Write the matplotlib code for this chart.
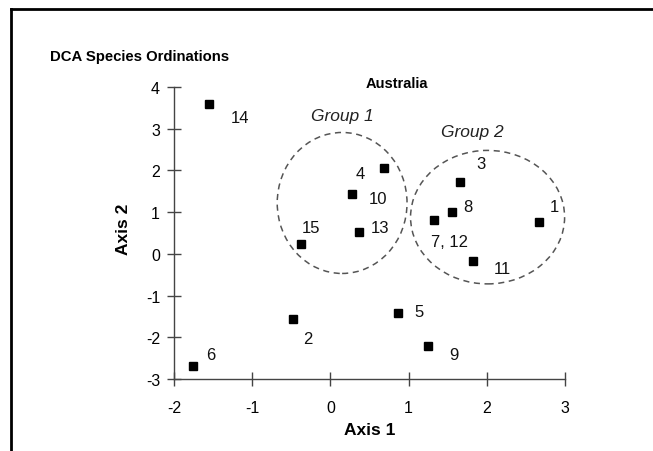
import matplotlib
matplotlib.use('Agg')
import matplotlib.pyplot as plt
from matplotlib.patches import Ellipse
from matplotlib.lines import Line2D

plt.rcParams['font.family'] = ['Liberation Sans', 'DejaVu Sans']
plt.rcParams['axes.unicode_minus'] = False

##############################################################################
# Data
##############################################################################
labels = ['1', '2', '3', '4', '5', '6', '7, 12', '8', '9', '10', '11', '13', '14', '15']
axis1 = [2.67, -0.48, 1.66, 0.69, 0.86, -1.76, 1.32, 1.55, 1.25, 0.27, 1.82, 0.36, -1.55, -0.38]
axis2 = [0.77, -1.57, 1.72, 2.07, -1.41, -2.68, 0.80, 1.00, -2.20, 1.43, -0.17, 0.53, 3.59, 0.23]

groups = ['Group 1', 'Group 2']
group_x = [0.15, 2.01]
group_y = [1.22, 0.88]
group_w = [1.66, 1.97]
group_h = [3.38, 3.20]

# label offsets in pixels from each marker
offsets = {
    '1': (11, 15), '2': (10, -19), '3': (16, 19), '4': (-29, -6),
    '5': (17, 1), '6': (13, 11), '7, 12': (-3, -21), '8': (12, 6),
    '9': (21, -9), '10': (17, -4), '11': (21, -8), '13': (12, 4),
    '14': (22, -13), '15': (1, 17),
}

##############################################################################
# Figure
##############################################################################
fig = plt.figure(figsize=(6.53, 4.52), dpi=100, facecolor='white')
ax = fig.add_axes([174 / 653, 1 - 380 / 452, 391 / 653, 292 / 452])
ax.set_xlim(-2, 3)
ax.set_ylim(-3, 4)

ax.plot(axis1, axis2, linestyle='none', marker='s', markersize=6,
        color='black', clip_on=False, zorder=3)
for lab, x, y in zip(labels, axis1, axis2):
    ax.annotate(lab, (x, y), xytext=offsets[lab], textcoords='offset pixels',
                ha='left', va='center', fontsize=12, color='#111111')

for g, cx, cy, w, h in zip(groups, group_x, group_y, group_w, group_h):
    ax.add_patch(Ellipse((cx, cy), w, h, fill=False, linestyle=(0, (4, 3)),
                         edgecolor='#555555', linewidth=1.1, clip_on=False))

fig.text(342 / 653, 1 - 117 / 452, 'Group 1', ha='center', va='center',
         fontsize=12.5, style='italic', color='#222222')
fig.text(472 / 653, 1 - 133 / 452, 'Group 2', ha='center', va='center',
         fontsize=12.5, style='italic', color='#222222')

for s in ['top', 'right']:
    ax.spines[s].set_visible(False)
for s in ['left', 'bottom']:
    ax.spines[s].set_color('#444444')
    ax.spines[s].set_linewidth(1.0)
ax.set_xticks(range(-2, 4))
ax.set_yticks(range(-3, 5))
ax.tick_params(direction='inout', length=10, width=1, color='#444444',
               labelsize=11.5)
ax.tick_params(axis='x', pad=10)
ax.tick_params(axis='y', pad=5)
ax.set_xlabel('Axis 1', fontsize=12.5, fontweight='bold', va='center')
ax.set_ylabel('Axis 2', fontsize=12.5, fontweight='bold', va='center')
ax.xaxis.set_label_coords(0.501, -0.174)
ax.yaxis.set_label_coords(-0.128, 0.517)

fig.text(50 / 653, 1 - 57 / 452, 'DCA Species Ordinations', ha='left',
         va='center', fontsize=10.75, fontweight='bold')
fig.text(397 / 653, 1 - 84 / 452, 'Australia', ha='center', va='center',
         fontsize=10.5, fontweight='bold')

# frame lines (top and left)
fig.add_artist(Line2D([11 / 653, 1], [1 - 9.5 / 452] * 2, color='black', linewidth=2))
fig.add_artist(Line2D([11 / 653] * 2, [0, 1 - 9.5 / 452], color='black', linewidth=2))

plt.savefig('out.png', dpi=100, facecolor='white')
plt.close('all')
